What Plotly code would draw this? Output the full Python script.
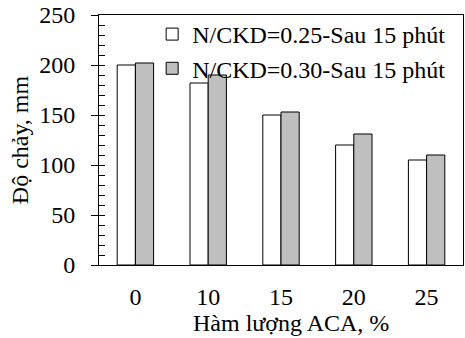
import plotly.graph_objects as go

categories = ["0", "10", "15", "20", "25"]
series1_name = "N/CKD=0.25-Sau 15 phút"
series1 = [200, 182, 150, 120, 105]
series2_name = "N/CKD=0.30-Sau 15 phút"
series2 = [202, 190, 153, 131, 110]
y_ticks = [0, 50, 100, 150, 200, 250]

FS = 24
F = dict(family="Liberation Serif", size=FS, color="black")

fig = go.Figure()
fig.add_trace(go.Bar(x=categories, y=series1, name=series1_name,
                     marker=dict(color="white", line=dict(color="black", width=1))))
fig.add_trace(go.Bar(x=categories, y=series2, name=series2_name,
                     marker=dict(color="#BFBFBF", line=dict(color="black", width=1))))
# overlay axis used only for the inside tick marks every 10 units
fig.add_trace(go.Scatter(x=categories, y=series1, yaxis="y2", mode="none",
                         showlegend=False, hoverinfo="skip"))

fig.update_layout(
    width=465, height=338,
    margin=dict(l=99, r=2, t=15, b=73),
    paper_bgcolor="white", plot_bgcolor="white",
    font=F,
    barmode="group", bargap=0.5, bargroupgap=0,
    showlegend=True,
    legend=dict(x=0.146, xanchor="left", y=1.012, yanchor="top",
                bgcolor="rgba(0,0,0,0)", borderwidth=0,
                font=F, tracegroupgap=0, itemwidth=30),
    xaxis=dict(type="category", showline=True, linecolor="black", linewidth=1,
               mirror=True, ticks="", showgrid=False, tickfont=F,
               ticklabelstandoff=10),
    yaxis=dict(range=[0, 250], tickvals=y_ticks, showline=True, linecolor="black",
               linewidth=1, mirror=True, ticks="outside", ticklen=7, tickcolor="black",
               showgrid=False, zeroline=False, tickfont=F, ticklabelstandoff=11,
               title=dict(text="Độ chảy, mm", standoff=3, font=F)),
    yaxis2=dict(range=[0, 250], overlaying="y", side="left", anchor="x", dtick=10,
                ticks="inside", ticklen=6, tickcolor="black", showticklabels=False,
                showgrid=False, zeroline=False, showline=False),
    annotations=[dict(text="Hàm lượng ACA, %", xref="paper", yref="paper",
                      x=0.527, y=-0.232, xanchor="center", yanchor="middle",
                      showarrow=False, font=F)],
)

fig.write_html("out.html")
